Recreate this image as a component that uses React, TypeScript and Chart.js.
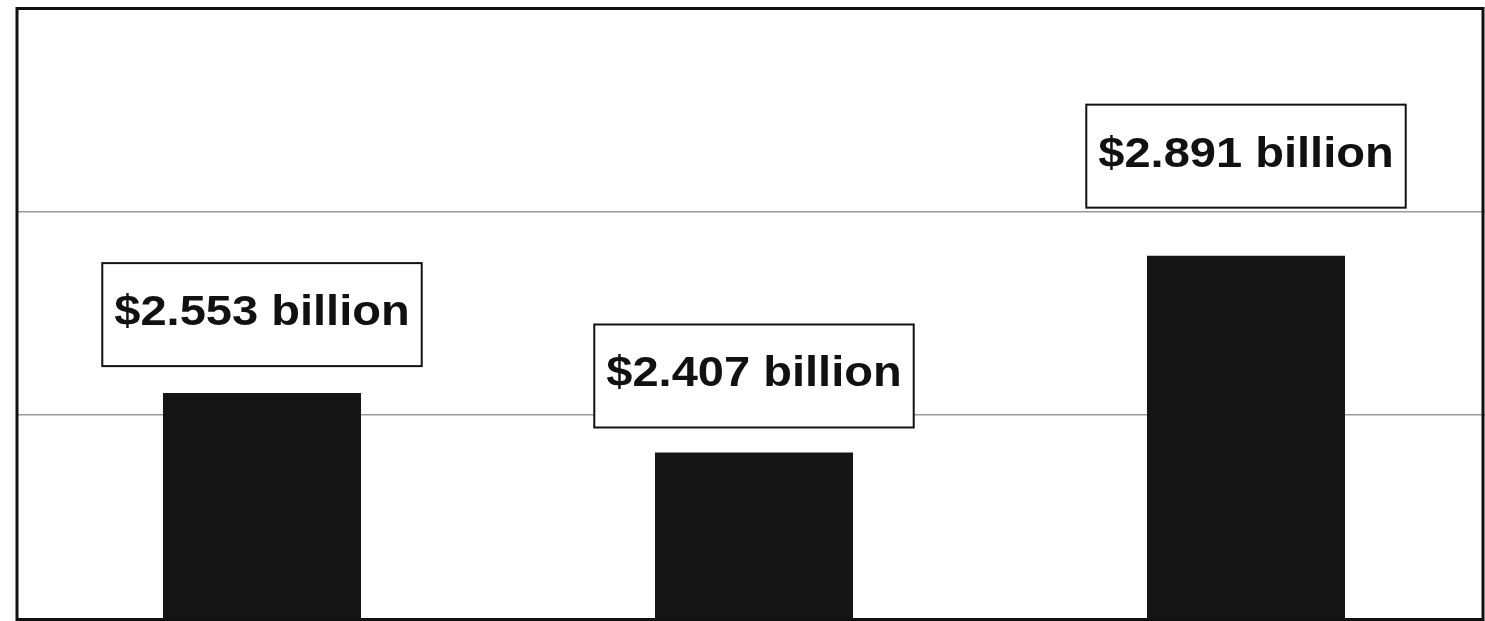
import React, { useEffect, useRef } from "react";
import { Chart, registerables } from "chart.js";

Chart.register(...registerables);

const categories = ["Year 1", "Year 2", "Year 3"];
const valuesBillions = [2.553, 2.407, 2.891];
const yMin = 2.0;
const yMax = 3.5;
const yStep = 0.5;
const gridValues = [2.5, 3.0];

const LABEL_GAPS = [27, 25, 48];
const TEXT_STRETCH = 1.12;

const labelPlugin = {
  id: "valueBoxes",
  afterDatasetsDraw(chart: any) {
    const ctx = chart.ctx;
    const meta = chart.getDatasetMeta(0);
    ctx.save();
    ctx.font = "bold 42px 'Liberation Sans', Arial, sans-serif";
    meta.data.forEach((el: any, i: number) => {
      const v = chart.data.datasets[0].data[i] as number;
      const text = `$${v.toFixed(3)} billion`;
      const tw = ctx.measureText(text).width * TEXT_STRETCH;
      const boxW = tw + 24;
      const boxH = 103;
      const boxBottom = el.y - LABEL_GAPS[i];
      const boxTop = boxBottom - boxH;
      const left = el.x - boxW / 2;
      ctx.fillStyle = "#ffffff";
      ctx.fillRect(left, boxTop, boxW, boxH);
      ctx.strokeStyle = "#111111";
      ctx.lineWidth = 2;
      ctx.strokeRect(left, boxTop, boxW, boxH);
      ctx.save();
      ctx.translate(el.x, boxTop + 62);
      ctx.scale(TEXT_STRETCH, 1);
      ctx.fillStyle = "#111111";
      ctx.textAlign = "center";
      ctx.textBaseline = "alphabetic";
      ctx.fillText(text, 0, 0);
      ctx.restore();
    });
    ctx.restore();
  },
  afterDraw(chart: any) {
    const ctx = chart.ctx;
    ctx.save();
    ctx.strokeStyle = "#111111";
    ctx.lineWidth = 3;
    ctx.strokeRect(17, 8.5, 1466, 611);
    ctx.restore();
  },
};

export default function App() {
  const ref = useRef<HTMLCanvasElement | null>(null);
  useEffect(() => {
    if (!ref.current) return;
    const chart = new Chart(ref.current, {
      type: "bar",
      data: {
        labels: categories,
        datasets: [
          {
            data: valuesBillions,
            backgroundColor: "#151515",
            borderWidth: 0,
            categoryPercentage: 1,
            barPercentage: 0.4025,
          },
        ],
      },
      options: {
        responsive: false,
        animation: false,
        layout: { padding: { left: 16, right: 0, top: 8, bottom: 3 } },
        plugins: { legend: { display: false }, tooltip: { enabled: false } },
        scales: {
          x: { display: false },
          y: {
            min: yMin,
            max: yMax,
            ticks: { display: false, stepSize: yStep },
            border: { display: false },
            grid: {
              drawTicks: false,
              lineWidth: 1.5,
              color: (c: any) =>
                gridValues.includes(Math.round(c.tick?.value * 10) / 10)
                  ? "#9a9a9a"
                  : "rgba(0,0,0,0)",
            },
          },
        },
      },
      plugins: [labelPlugin],
    });
    return () => chart.destroy();
  }, []);
  return (
    <div
      style={{
        position: "fixed",
        left: 0,
        top: 0,
        width: 1485,
        height: 621,
        overflow: "hidden",
        background: "#fff",
      }}
    >
      <canvas ref={ref} width={1492} height={621} style={{ display: "block" }} />
    </div>
  );
}
